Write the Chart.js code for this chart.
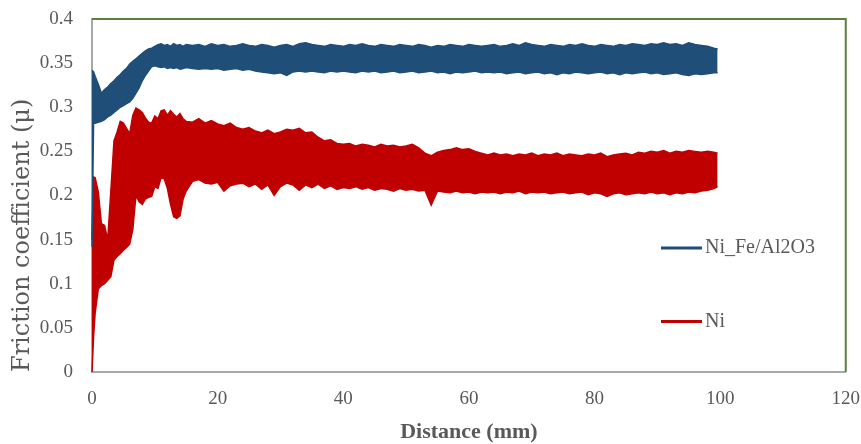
<!DOCTYPE html>
<html>
<head>
<meta charset="utf-8">
<title>Friction coefficient vs distance</title>
<script src="https://cdn.jsdelivr.net/npm/chart.js@4.4.0/dist/chart.umd.min.js"></script>
<style>
  html, body { margin: 0; padding: 0; background: #fff; }
  #wrap { width: 861px; height: 444px; }
</style>
</head>
<body>
<div id="wrap"><canvas id="chartFriction" width="861" height="444"></canvas></div>
<script>
// --- DATA: sliding distance (mm) ---
const distance = [0, 0.25, 0.5, 1, 1.5, 2, 2.5, 3, 3.5, 4, 4.5, 5, 5.5, 6, 6.5, 7, 7.5, 8, 8.5, 9, 9.5, 10,
    10.5, 11, 11.5, 12, 12.5, 13, 13.5, 14, 14.5, 15, 16, 17, 18, 19, 20, 21, 22, 23, 24, 25, 26, 27, 28, 29,
    30, 31, 32, 33, 34, 35, 36, 37, 38, 39, 40, 41, 42, 43, 44, 45, 46, 47, 48, 49, 50, 51, 52, 53, 54, 55,
    56, 57, 58, 59, 60, 61, 62, 63, 64, 65, 66, 67, 68, 69, 70, 71, 72, 73, 74, 75, 76, 77, 78, 79, 80, 81,
    82, 83, 84, 85, 86, 87, 88, 89, 90, 91, 92, 93, 94, 95, 96, 97, 98, 99, 99.6];

// Ni_Fe/Al2O3: upper and lower edge of the noisy trace
const niFeHigh = [0.342, 0.340, 0.335, 0.326, 0.316, 0.320, 0.323, 0.327, 0.330, 0.334, 0.337, 0.341, 0.344,
    0.349, 0.352, 0.355, 0.358, 0.361, 0.364, 0.366, 0.367, 0.369, 0.371, 0.372, 0.370, 0.371, 0.369, 0.372,
    0.370, 0.371, 0.369, 0.371,
    0.370, 0.371, 0.369, 0.372, 0.370, 0.371, 0.369, 0.370, 0.372, 0.370, 0.369, 0.371, 0.370, 0.368, 0.370,
    0.371, 0.369, 0.372, 0.373, 0.371, 0.370, 0.369, 0.371, 0.370, 0.369, 0.371, 0.370, 0.372, 0.370, 0.369,
    0.371, 0.370, 0.369, 0.371, 0.370, 0.369, 0.371, 0.370, 0.368, 0.370, 0.369, 0.371, 0.370, 0.369, 0.371,
    0.370, 0.369, 0.370, 0.371, 0.369, 0.370, 0.372, 0.370, 0.373, 0.371, 0.370, 0.369, 0.371, 0.370, 0.369,
    0.371, 0.370, 0.372, 0.370, 0.369, 0.371, 0.370, 0.369, 0.371, 0.370, 0.372, 0.371, 0.370, 0.372, 0.371,
    0.373, 0.371, 0.372, 0.370, 0.373, 0.371, 0.370, 0.369, 0.367, 0.366];
const niFeLow = [0.142, 0.283, 0.282, 0.283, 0.284, 0.286, 0.289, 0.291, 0.294, 0.297, 0.300, 0.302, 0.304,
    0.306, 0.310, 0.316, 0.322, 0.330, 0.336, 0.341, 0.346, 0.347, 0.346, 0.345, 0.346, 0.344, 0.345, 0.344,
    0.345, 0.343, 0.344, 0.345,
    0.344, 0.343, 0.344, 0.343, 0.344, 0.342, 0.343, 0.344, 0.342, 0.343, 0.341, 0.340, 0.339, 0.338, 0.339,
    0.336, 0.340, 0.341, 0.340, 0.341, 0.340, 0.339, 0.341, 0.340, 0.341, 0.340, 0.339, 0.341, 0.340, 0.341,
    0.339, 0.340, 0.341, 0.339, 0.340, 0.341, 0.339, 0.340, 0.341, 0.339, 0.340, 0.338, 0.340, 0.339, 0.340,
    0.341, 0.339, 0.340, 0.339, 0.340, 0.338, 0.339, 0.340, 0.338, 0.339, 0.340, 0.338, 0.339, 0.337, 0.339,
    0.338, 0.340, 0.339, 0.338, 0.339, 0.340, 0.338, 0.339, 0.337, 0.339, 0.338, 0.339, 0.340, 0.338, 0.339,
    0.337, 0.338, 0.339, 0.337, 0.336, 0.338, 0.337, 0.338, 0.339, 0.339];

// Ni: upper and lower edge of the noisy trace
const niHigh = [0.150, 0.221, 0.220, 0.204, 0.168, 0.166, 0.150, 0.205, 0.262, 0.272, 0.284, 0.282, 0.276,
    0.270, 0.291, 0.299, 0.297, 0.294, 0.288, 0.283, 0.282, 0.290, 0.287, 0.296, 0.297, 0.291, 0.296, 0.292,
    0.289, 0.293, 0.287, 0.284,
    0.283, 0.287, 0.282, 0.285, 0.281, 0.279, 0.282, 0.277, 0.275, 0.277, 0.273, 0.271, 0.274, 0.270, 0.272,
    0.275, 0.274, 0.276, 0.271, 0.272, 0.266, 0.262, 0.263, 0.259, 0.258, 0.259, 0.256, 0.258, 0.257, 0.255,
    0.258, 0.256, 0.257, 0.255, 0.256, 0.258, 0.254, 0.248, 0.245, 0.249, 0.251, 0.252, 0.254, 0.252, 0.253,
    0.250, 0.248, 0.246, 0.248, 0.246, 0.247, 0.245, 0.247, 0.246, 0.248, 0.245, 0.247, 0.246, 0.248, 0.245,
    0.247, 0.246, 0.245, 0.247, 0.246, 0.248, 0.244, 0.246, 0.247, 0.248, 0.246, 0.249, 0.248, 0.250, 0.249,
    0.251, 0.248, 0.250, 0.249, 0.251, 0.250, 0.249, 0.250, 0.249, 0.248];
const niLow = [0.000, 0.040, 0.067, 0.094, 0.098, 0.100, 0.104, 0.108, 0.127, 0.131, 0.134, 0.138, 0.141,
    0.145, 0.162, 0.200, 0.193, 0.190, 0.196, 0.198, 0.199, 0.210, 0.208, 0.220, 0.219, 0.208, 0.190, 0.176,
    0.174, 0.177, 0.196, 0.205,
    0.216, 0.218, 0.214, 0.213, 0.215, 0.205, 0.211, 0.213, 0.214, 0.210, 0.213, 0.207, 0.212, 0.200, 0.210,
    0.214, 0.212, 0.206, 0.212, 0.209, 0.213, 0.208, 0.211, 0.207, 0.209, 0.208, 0.210, 0.207, 0.209, 0.206,
    0.208, 0.207, 0.205, 0.208, 0.206, 0.207, 0.205, 0.206, 0.189, 0.205, 0.204, 0.203, 0.205, 0.203, 0.204,
    0.202, 0.204, 0.203, 0.204, 0.202, 0.204, 0.203, 0.205, 0.202, 0.204, 0.203, 0.204, 0.202, 0.203, 0.204,
    0.202, 0.203, 0.204, 0.201, 0.203, 0.202, 0.199, 0.202, 0.203, 0.201, 0.202, 0.203, 0.202, 0.204, 0.202,
    0.203, 0.201, 0.203, 0.202, 0.204, 0.203, 0.205, 0.206, 0.208, 0.210];

// axis ticks
const xTicks = [0, 20, 40, 60, 80, 100, 120];
const yTicks = [0, 0.05, 0.1, 0.15, 0.2, 0.25, 0.3, 0.35, 0.4];

const legendItems = [
    { label: 'Ni_Fe/Al2O3', color: '#1f4e79', y: 248 },
    { label: 'Ni', color: '#c00000', y: 321.5 }
];

const GREY = '#595959';
const AXIS = '#a6aaa6';

function toPoints(ys) {
    return distance.map((d, i) => ({ x: d, y: ys[i] }));
}

function band(label, ys, color, fill) {
    return {
        label: label,
        data: toPoints(ys),
        borderColor: color,
        backgroundColor: color,
        borderWidth: 1.5,
        pointRadius: 0,
        tension: 0,
        fill: fill,
        clip: false
    };
}

// frame on top/right and the legend inside the plot
const frameAndLegend = {
    id: 'frameAndLegend',
    afterDraw(chart) {
        const { ctx, chartArea: a } = chart;
        ctx.save();
        ctx.strokeStyle = '#5b7f43';
        ctx.lineWidth = 2;
        ctx.beginPath();
        ctx.moveTo(a.left, a.top);
        ctx.lineTo(a.right, a.top);
        ctx.lineTo(a.right, a.bottom);
        ctx.stroke();

        ctx.font = '20px "Liberation Serif"';
        ctx.textBaseline = 'middle';
        legendItems.forEach(item => {
            ctx.strokeStyle = item.color;
            ctx.lineWidth = 3;
            ctx.beginPath();
            ctx.moveTo(661, item.y);
            ctx.lineTo(702, item.y);
            ctx.stroke();
            ctx.fillStyle = GREY;
            ctx.fillText(item.label, 705, item.y);
        });
        ctx.restore();
    }
};

new Chart(document.getElementById('chartFriction').getContext('2d'), {
    type: 'line',
    data: {
        datasets: [
            band('Ni_Fe/Al2O3', niFeHigh, '#1f4e79', false),
            band('Ni_Fe/Al2O3 low', niFeLow, '#1f4e79', '-1'),
            band('Ni', niHigh, '#c00000', false),
            band('Ni low', niLow, '#c00000', '-1')
        ]
    },
    options: {
        responsive: false,
        animation: false,
        layout: { padding: { left: 0, right: 15, top: 19, bottom: 0 } },
        plugins: { legend: { display: false }, tooltip: { enabled: false } },
        scales: {
            x: {
                type: 'linear',
                min: 0,
                max: 120,
                afterBuildTicks: s => { s.ticks = xTicks.map(v => ({ value: v })); },
                afterFit: s => { s.height = 72; },
                // hidden tick marks only used as spacing before the labels
                grid: { display: false, drawTicks: true, tickLength: 15 },
                border: { color: AXIS, width: 2 },
                ticks: { color: GREY, font: { family: 'Liberation Serif', size: 19 }, padding: 1, maxRotation: 0 },
                title: {
                    display: true,
                    text: 'Distance (mm)',
                    color: GREY,
                    font: { family: 'Liberation Serif', size: 22, weight: 'bold', lineHeight: 1.1 },
                    padding: { top: 11, bottom: 0 }
                }
            },
            y: {
                min: 0,
                max: 0.4,
                afterBuildTicks: s => { s.ticks = yTicks.map(v => ({ value: v })); },
                afterFit: s => { s.width = 92; },
                grid: { display: false, drawTicks: true, tickLength: 11.4 },
                border: { color: AXIS, width: 2 },
                ticks: {
                    color: GREY,
                    font: { family: 'Liberation Serif', size: 19 },
                    padding: 7.6,
                    callback: v => String(+v.toFixed(2))
                },
                title: {
                    display: true,
                    text: 'Friction coefficient (μ)',
                    align: 'start',
                    color: GREY,
                    font: { family: 'DejaVu Serif', size: 24, lineHeight: 1.2 },
                    padding: { top: 8.6, bottom: 2.4 }
                }
            }
        }
    },
    plugins: [frameAndLegend]
});
</script>
</body>
</html>
